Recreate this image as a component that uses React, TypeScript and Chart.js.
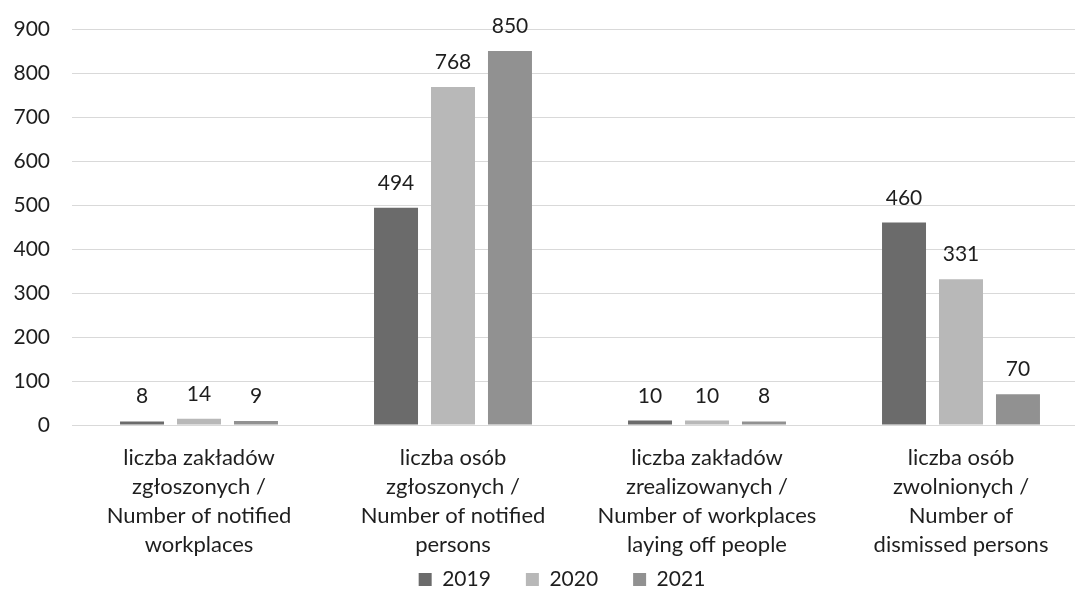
import React, { useEffect, useRef } from "react";
import { Chart, registerables } from "chart.js";

Chart.register(...registerables);

const categories: string[][] = [
  ["liczba zakładów", "zgłoszonych /", "Number of notified", "workplaces"],
  ["liczba osób", "zgłoszonych /", "Number of notified", "persons"],
  ["liczba zakładów", "zrealizowanych /", "Number of workplaces", "laying off people"],
  ["liczba osób", "zwolnionych /", "Number of", "dismissed persons"],
];
const seriesNames = ["2019", "2020", "2021"];
const values2019 = [8, 494, 10, 460];
const values2020 = [14, 768, 10, 331];
const values2021 = [9, 850, 8, 70];
const colors = ["#6b6b6b", "#b8b8b8", "#919191"];
const yMin = 0;
const yMax = 900;
const yStep = 100;

const FONT = "Lato, 'Open Sans', sans-serif";
const FS = 21;
const TEXT = "#1e1e1e";

const labelPlugin = {
  id: "barValueLabels",
  afterDatasetsDraw(chart: any) {
    const ctx = chart.ctx;
    ctx.save();
    ctx.font = `${FS}px ${FONT}`;
    ctx.fillStyle = TEXT;
    ctx.textAlign = "center";
    ctx.textBaseline = "alphabetic";
    chart.data.datasets.forEach((ds: any, i: number) => {
      const meta = chart.getDatasetMeta(i);
      meta.data.forEach((el: any, j: number) => {
        ctx.fillText(String(ds.data[j]), el.x, el.y - 18);
      });
    });
    ctx.restore();
  },
};

const legendPlacePlugin = {
  id: "legendPlace",
  afterInit(chart: any) {
    const legend = chart.legend;
    if (!legend) return;
    const origFit = legend.fit.bind(legend);
    legend.fit = function () {
      origFit();
      this.height = 25;
    };
  },
  afterLayout(chart: any) {
    const legend = chart.legend;
    if (!legend) return;
    legend.left = 12;
    legend.right = chart.width + 12;
    legend.top = 534;
    legend.bottom = 590;
  },
};

export default function App() {
  const ref = useRef<HTMLCanvasElement | null>(null);
  useEffect(() => {
    if (!ref.current) return;
    const data = [values2019, values2020, values2021];
    const chart = new Chart(ref.current, {
      type: "bar",
      data: {
        labels: categories,
        datasets: seriesNames.map((name, i) => ({
          label: name,
          data: data[i],
          backgroundColor: colors[i],
          borderWidth: 0,
          categoryPercentage: 0.673,
          barPercentage: 0.772,
        })),
      },
      options: {
        responsive: false,
        animation: false,
        layout: { padding: { left: 0, right: 12, top: 29, bottom: 0 } },
        plugins: {
          tooltip: { enabled: false },
          legend: {
            position: "bottom",
            labels: {
              font: { family: FONT, size: FS },
              color: TEXT,
              boxWidth: 13,
              boxHeight: 13,
              padding: 35,
            },
          },
        },
        scales: {
          x: {
            afterFit: (s: any) => {
              s.height = 140;
            },
            grid: { display: false },
            border: { color: "#d9d9d9", width: 1 },
            ticks: {
              font: { family: FONT, size: 22, lineHeight: 1.32 },
              color: TEXT,
              maxRotation: 0,
              autoSkip: false,
              padding: 10,
            },
          },
          y: {
            min: yMin,
            max: yMax,
            afterFit: (s: any) => {
              s.width = 72;
            },
            grid: { color: "#d9d9d9", lineWidth: 1, drawTicks: true, tickLength: 22, tickColor: "rgba(0,0,0,0)" },
            border: { display: false },
            ticks: {
              stepSize: yStep,
              font: { family: FONT, size: FS },
              color: TEXT,
              padding: 0,
            },
          },
        },
      },
      plugins: [labelPlugin, legendPlacePlugin],
    });
    return () => chart.destroy();
  }, []);
  return (
    <div style={{ position: "fixed", left: 0, top: 0, width: 1075, height: 590, overflow: "hidden", background: "#fff" }}>
      <canvas ref={ref} width={1100} height={590} style={{ width: 1100, height: 590, display: "block" }} />
    </div>
  );
}
